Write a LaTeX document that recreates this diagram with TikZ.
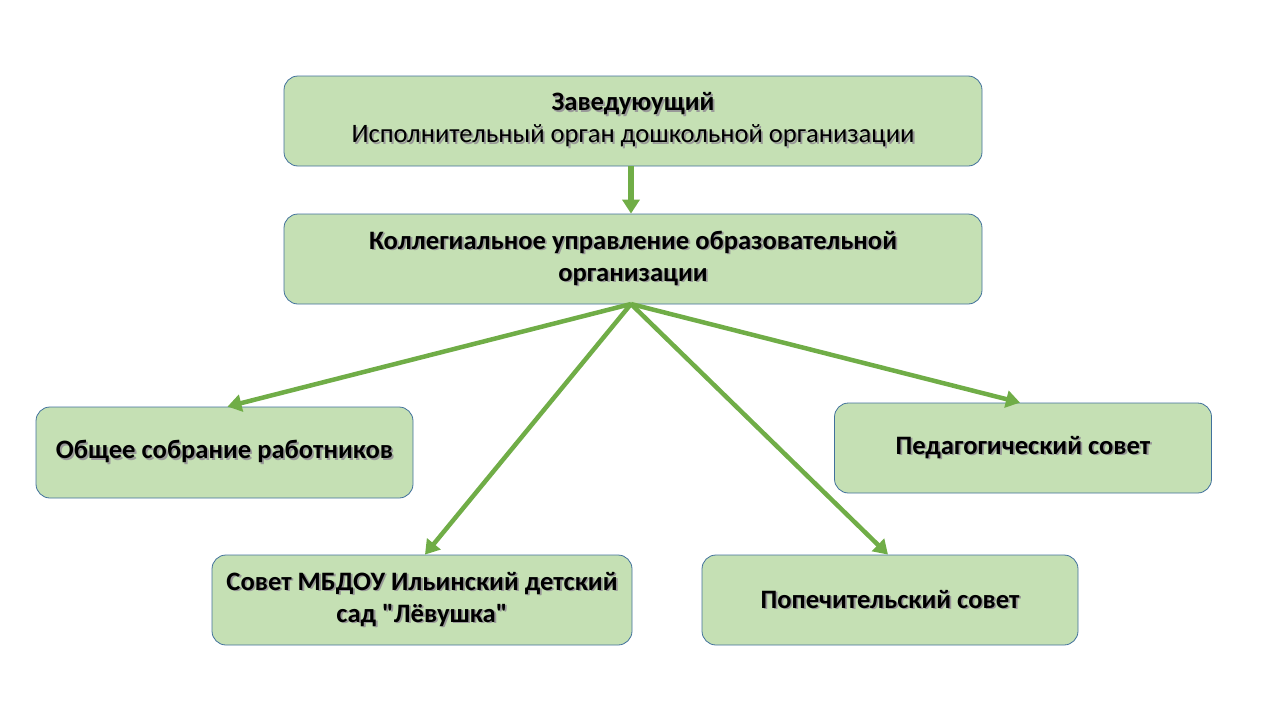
\documentclass[tikz,border=0pt]{standalone}
\usepackage{fontspec}
\setmainfont{Carlito}[Ligatures=TeXOff]
\usetikzlibrary{arrows.meta}

\definecolor{boxfill}{HTML}{C5E0B4}
\definecolor{boxline}{HTML}{41719C}
\definecolor{arrowgreen}{HTML}{70AD47}

% text line with a soft shadow
\newcommand{\shl}[1]{\makebox[0pt][l]{\hspace{1.8pt}\raisebox{-1.8pt}{\color{black!40}#1}}#1}

\tikzset{
  orgbox/.style={draw=boxline, line width=0.8pt, fill=boxfill, rounded corners=14pt,
    align=center, font=\fontsize{26.6}{32}\selectfont, inner sep=0pt},
  wide/.style={orgbox, minimum width=698pt, minimum height=90pt},
  narrow/.style={orgbox, minimum width=377pt, minimum height=91pt},
  link/.style={arrowgreen, line width=4.5pt, -{Triangle[length=14pt,width=17pt]}},
}

\begin{document}
\begin{tikzpicture}[x=1pt,y=1pt]
  \useasboundingbox (0,0) rectangle (1280,-720);

  % head and collegial board
  \node[wide] (zav) at (633,-121) {\shl{\bfseries Заведуюущий}\\\shl{Исполнительный орган дошкольной организации}};
  \node[wide] (koll) at (633,-259) {\shl{\bfseries Коллегиальное управление образовательной}\\\shl{\bfseries организации}};

  % councils
  \node[narrow] (sobr) at (224.5,-452.5) {\shl{\bfseries Общее собрание работников}};
  \node[narrow, minimum height=90pt] (ped) at (1023,-448) {\shl{\bfseries Педагогический совет}};
  \node[orgbox, minimum width=420pt, minimum height=90pt] (sovet) at (422,-600) {\shl{\bfseries Совет МБДОУ Ильинский детский}\\\shl{\bfseries сад "Лёвушка"}};
  \node[narrow, minimum width=376pt, minimum height=90pt] (popech) at (890,-600) {\shl{\bfseries Попечительский совет}};

  % arrows
  \coordinate (hub) at (631,-304);
  \draw[link, line width=5.5pt] ([xshift=-2pt]zav.south) -- ([xshift=-2pt]koll.north);
  \draw[link] (hub) -- ([xshift=3pt]sobr.north);
  \draw[link] (hub) -- ([xshift=3pt]sovet.north);
  \draw[link] (hub) -- ([xshift=-2pt]popech.north);
  \draw[link] (hub) -- ([xshift=-3pt]ped.north);
\end{tikzpicture}
\end{document}
